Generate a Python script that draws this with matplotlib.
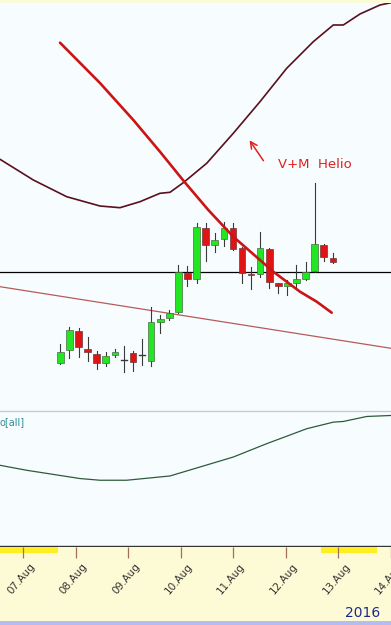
import numpy as np
import pandas as pd
import matplotlib
matplotlib.use("Agg")
import matplotlib.pyplot as plt
from matplotlib.transforms import ScaledTranslation

# ---------------- data ----------------
times = pd.date_range("2016-08-07 16:00", periods=31, freq="4h")
opens = [47.3, 60, 79, 61, 56, 47.3, 55, 50, 57, 55, 49, 88, 91.7, 98.3, 137.3, 130.7,
         182, 164.7, 171, 182.3, 161.7, 136, 136, 160.7, 126.7, 124, 126.7, 131.3, 139, 165, 152.3]
highs = [66, 83, 82.3, 73, 59, 58.3, 61, 64, 59.3, 71, 103, 95, 100, 145, 144.3, 187.3,
         186.7, 177.3, 188.3, 187.3, 163.3, 143.3, 177.7, 162, 127, 130, 145, 148.3, 227, 166, 157.3]
lows = [46, 52, 53.3, 49.3, 41, 44.3, 53.3, 38.3, 39.3, 45, 44.3, 77, 90, 97, 124, 127.3,
        149.3, 158.3, 164, 160, 126.7, 120.7, 133.3, 121.7, 116.7, 115, 121.7, 130, 138.3, 149.3, 146.7]
closes = [58.3, 80, 63, 58, 47, 54.3, 58, 50, 48.3, 55, 88, 91, 97.3, 138.3, 130.7, 182.7,
          164.7, 169.7, 182.3, 161.3, 137.3, 135.3, 161.7, 128, 124, 126.7, 131.3, 138.3, 165.7, 152.7, 148.3]

level_price = 138

trend_x = [-0.440, 6.734]
trend_y = [123.3, 61.7]

red_curve_x = [0.661, 1.394, 2.006, 2.495, 2.941, 3.382, 3.840, 4.330, 4.574, 4.820, 5.064, 5.371, 5.646]
red_curve_y = [367.3, 327, 290, 258.3, 228.3, 200, 173.3, 150, 138.3, 128.3, 118.3, 108.3, 97.3]

helio_x = [-0.440, 0.171, 0.783, 1.394, 1.761, 2.128, 2.495, 2.679, 2.923, 3.352, 3.840, 4.330,
           4.820, 5.308, 5.675, 5.859, 6.165, 6.532, 6.734]
helio_y = [250.7, 230, 213.3, 204, 202.3, 208.3, 216.7, 217.7, 227.3, 246.7, 276.7, 308.3,
           341.7, 368.3, 385, 385, 396, 405, 407.3]

osc_x = [-0.440, 0.050, 1.028, 1.394, 1.884, 2.679, 3.229, 3.840, 4.453, 5.187, 5.675, 5.859, 6.288, 6.734]
osc_y = [80, 75, 66.7, 65, 65, 69.3, 78.3, 88.3, 101.7, 116.7, 123.3, 124, 129, 130]

tick_days = [0, 1, 2, 3, 4, 5, 6, 7]
tick_labels = ["07.Aug", "08.Aug", "09.Aug", "10.Aug", "11.Aug", "12.Aug", "13.Aug", "14.Aug"]
year_label = "2016"
osc_label = "o[all]"
note_text = "V+M  Helio"

# ---------------- layout ----------------
W, H = 391, 625
fig = plt.figure(figsize=(W / 100, H / 100), dpi=100)
fig.patch.set_facecolor("#f7fdfe")

def ax_px(top, bottom):
    return fig.add_axes([0, 1 - bottom / H, 1, (bottom - top) / H])

xmin, xmax = -0.4404, 6.734
bg = "#f7fdfe"

# top strip
strip = ax_px(0, 3)
strip.set_facecolor("#fbfbd8")
strip.set_xticks([]); strip.set_yticks([])
for s in strip.spines.values():
    s.set_visible(False)

# main panel
ax = ax_px(3, 410)
ax.set_facecolor(bg)
ax.set_xlim(xmin, xmax)
ax.set_ylim(0, 407)
ax.set_xticks([]); ax.set_yticks([])
for s in ax.spines.values():
    s.set_visible(False)

x = np.array([(t - pd.Timestamp("2016-08-07")) / pd.Timedelta(days=1) for t in times])
w = (1 / 6) * 0.72
for xi, o, h, l, c in zip(x, opens, highs, lows, closes):
    ax.plot([xi, xi], [l, h], color="#3a3a3a", lw=0.8, zorder=3)
    if c > o:
        ax.bar(xi, c - o, w, bottom=o, color="#22e622", edgecolor="#4a6a4a", lw=0.5, zorder=4)
    elif c < o:
        ax.bar(xi, o - c, w, bottom=c, color="#e01414", edgecolor="#6a3a3a", lw=0.5, zorder=4)
    else:
        ax.plot([xi - w / 2, xi + w / 2], [o, o], color="#3a3a3a", lw=1.0, zorder=4)

ax.axhline(level_price, color="black", lw=0.9, zorder=2)
ax.plot(trend_x, trend_y, color="#b85a5a", lw=0.9, zorder=2)
ax.plot(helio_x, helio_y, color="#5a0f1e", lw=1.2, zorder=2)
ax.plot(red_curve_x, red_curve_y, color="#cc1414", lw=1.9, zorder=5, solid_capstyle="round")

ax.annotate("", xy=(4.11, 272), xytext=(4.422, 247),
            arrowprops=dict(arrowstyle="->", color="#e02020", lw=1.1, mutation_scale=12))
ax.text(4.66, 245, note_text, color="#e02020", fontsize=9.5, ha="left", va="center",
        family="DejaVu Sans")

# lower oscillator panel
ax2 = ax_px(410.5, 546)
ax2.set_facecolor(bg)
ax2.set_xlim(xmin, xmax)
ax2.set_ylim(-1, 135)
ax2.set_xticks([]); ax2.set_yticks([])
for k, s in ax2.spines.items():
    s.set_visible(False)
ax2.spines["top"].set_visible(True)
ax2.spines["top"].set_color("#c4c8c8")
ax2.spines["top"].set_linewidth(0.9)
ax2.spines["bottom"].set_visible(True)
ax2.spines["bottom"].set_color("#333333")
ax2.spines["bottom"].set_linewidth(1.0)
ax2.plot(osc_x, osc_y, color="#2e5a3a", lw=0.9)
ax2.text(-0.45, 123, osc_label, color="#2f8a9a", fontsize=7, ha="left", va="center")

# date axis strip
ax3 = ax_px(546.5, 621)
ax3.set_facecolor("#fdfbd6")
ax3.set_xlim(xmin, xmax)
ax3.set_ylim(0, 1)
ax3.set_yticks([])
for s in ax3.spines.values():
    s.set_visible(False)
ax3.axvspan(xmin, x[0], ymin=0.91, ymax=0.99, color="#ffee22", lw=0)
ax3.axvspan(x[-1], xmax, ymin=0.91, ymax=0.99, color="#ffee22", lw=0)
ax3.xaxis.set_ticks_position("top")
ax3.set_xticks(tick_days)
ax3.set_xticklabels(tick_labels)
ax3.tick_params(axis="x", direction="in", length=8, width=0.9, color="#a0705a",
                labelsize=7, labelcolor="#333333", pad=0, labeltop=False, labelbottom=False)
for d, lab in zip(tick_days, tick_labels):
    t = ax3.text(d, 0.80, lab, rotation=50, ha="right", va="top", rotation_mode="anchor",
                 fontsize=7.5, color="#333333", transform=ax3.get_xaxis_transform())
    t.set_transform(ax3.get_xaxis_transform() + ScaledTranslation(6 / 100, 0, fig.dpi_scale_trans))
fig.text(363 / W, 1 - 613 / H, year_label, color="#1a2a8a", fontsize=10, ha="center", va="center")

# bottom band
band = ax_px(621, 625)
band.set_facecolor("#b4bcf2")
band.set_xticks([]); band.set_yticks([])
for s in band.spines.values():
    s.set_visible(False)

fig.savefig("out.png", dpi=100, facecolor=fig.get_facecolor())
